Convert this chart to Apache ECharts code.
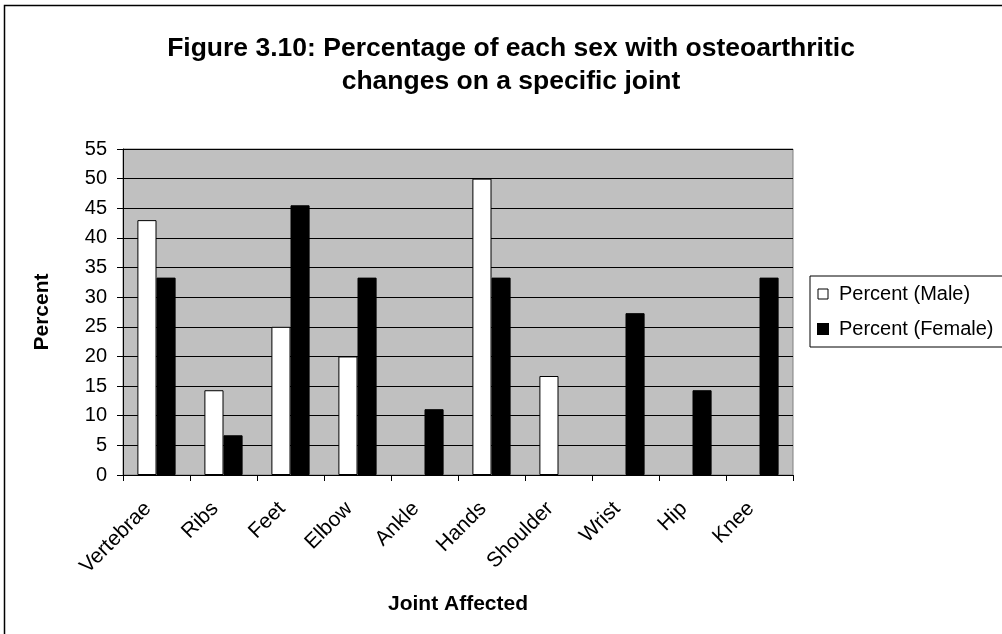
<!DOCTYPE html>
<html>
<head>
<meta charset="utf-8">
<script src="https://cdn.jsdelivr.net/npm/echarts@6/dist/echarts.min.js"></script>
<style>
  html, body { margin: 0; padding: 0; background: #fff; }
  #chart { width: 1002px; height: 634px; }
</style>
</head>
<body>
<div id="chart"></div>
<script>
// Joints examined and share of each sex showing osteoarthritic change
const joints = ['Vertebrae', 'Ribs', 'Feet', 'Elbow', 'Ankle', 'Hands', 'Shoulder', 'Wrist', 'Hip', 'Knee'];
const malePercent = [43, 14.3, 25, 20, 0, 50, 16.7, 0, 0, 0];
const femalePercent = [33.3, 6.7, 45.5, 33.3, 11.1, 33.3, 0, 27.3, 14.3, 33.3];
const seriesNames = ['Percent (Male)', 'Percent (Female)'];

const FONT = 'Liberation Sans, Arial, sans-serif';

// zero-height bars get no outline, so no stray line sits on the axis
function barData(values) {
  return values.map(v => (v === 0 ? { value: v, itemStyle: { borderWidth: 0 } } : v));
}

const chart = echarts.init(document.getElementById('chart'), null, { renderer: 'canvas' });

chart.setOption({
  animation: false,
  backgroundColor: '#ffffff',
  title: {
    text: 'Figure 3.10: Percentage of each sex with osteoarthritic\nchanges on a specific joint',
    left: 506,
    top: 27,
    textAlign: 'center',
    textStyle: {
      fontFamily: FONT,
      fontSize: 26.5,
      fontWeight: 'bold',
      color: '#000',
      lineHeight: 33
    }
  },
  graphic: [{
    type: 'rect',
    shape: { x: 4.5, y: 5.5, width: 1100, height: 700 },
    style: { fill: 'none', stroke: '#000', lineWidth: 1.5 },
    silent: true,
    z: -1
  }],
  legend: {
    orient: 'vertical',
    left: 810,
    top: 276,
    padding: [8, 60, 8, 7],
    itemGap: 15,
    itemWidth: 10,
    itemHeight: 10,
    borderColor: '#000',
    borderWidth: 1,
    backgroundColor: '#fff',
    icon: 'rect',
    textStyle: { fontFamily: FONT, fontSize: 20, color: '#000', padding: [0, 0, 0, 6] },
    data: [
      { name: seriesNames[0], itemStyle: { color: '#fff', borderColor: '#000', borderWidth: 1 } },
      { name: seriesNames[1], itemStyle: { color: '#000' } }
    ]
  },
  grid: {
    left: 123,
    right: 209,
    top: 149,
    bottom: 159,
    show: true,
    backgroundColor: '#c0c0c0',
    borderColor: '#808080',
    borderWidth: 1
  },
  xAxis: {
    type: 'category',
    data: joints,
    name: 'Joint Affected',
    nameLocation: 'middle',
    nameGap: 119,
    nameTextStyle: { fontFamily: FONT, fontSize: 21, fontWeight: 'bold', color: '#000' },
    axisLine: { lineStyle: { color: '#000', width: 1 } },
    axisTick: { show: true, length: 6, lineStyle: { color: '#000' } },
    axisLabel: {
      rotate: 45,
      interval: 0,
      margin: 22,
      padding: [0, 12, 0, 0],
      fontFamily: FONT,
      fontSize: 21,
      color: '#000'
    }
  },
  yAxis: {
    type: 'value',
    min: 0,
    max: 55,
    interval: 5,
    name: 'Percent',
    nameLocation: 'middle',
    nameGap: 70,
    nameTextStyle: { fontFamily: FONT, fontSize: 21, fontWeight: 'bold', color: '#000' },
    axisLine: { show: true, lineStyle: { color: '#000', width: 1 } },
    axisTick: { show: true, length: 6, lineStyle: { color: '#000' } },
    axisLabel: { margin: 16, fontFamily: FONT, fontSize: 20, color: '#000' },
    splitLine: { show: true, lineStyle: { color: '#000', width: 1 } }
  },
  series: [
    {
      name: seriesNames[0],
      type: 'bar',
      data: barData(malePercent),
      barGap: '0%',
      barCategoryGap: '43%',
      itemStyle: { color: '#fff', borderColor: '#000', borderWidth: 1 }
    },
    {
      name: seriesNames[1],
      type: 'bar',
      data: barData(femalePercent),
      barGap: '0%',
      barCategoryGap: '43%',
      itemStyle: { color: '#000', borderColor: '#000', borderWidth: 1 }
    }
  ]
});
</script>
</body>
</html>
